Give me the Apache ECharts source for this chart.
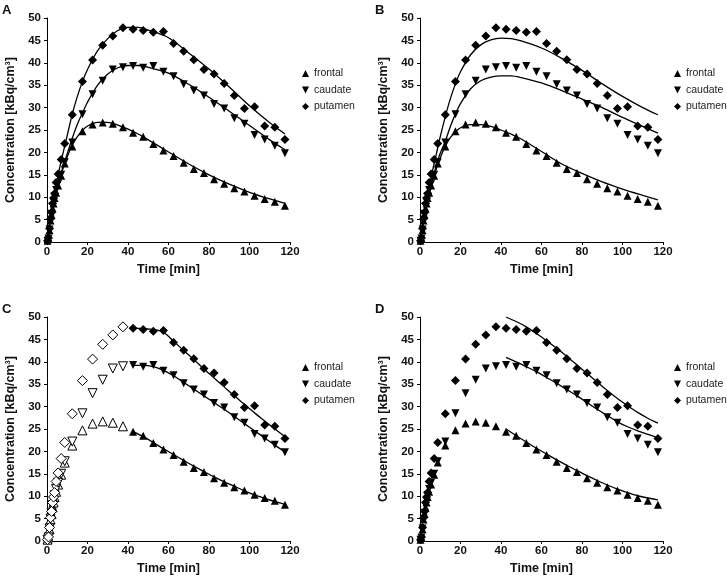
<!DOCTYPE html>
<html><head><meta charset="utf-8">
<script src="https://cdn.jsdelivr.net/npm/echarts@6/dist/echarts.min.js"></script>
<style>html,body{margin:0;padding:0;background:#fff}#c{width:727px;height:580px}</style>
</head><body><div id="c"></div>
<script>
// measured time-activity data (shared by all panels)
const times = [0.25,0.75,1.25,1.75,2.25,2.75,3.25,3.75,4.5,5.5,7,8.75,12.5,17.5,22.5,27.5,32.5,37.5,42.5,47.5,52.5,57.5,62.5,67.5,72.5,77.5,82.5,87.5,92.5,97.5,102.5,107.5,112.5,117.5];
const frontal = [0.3,0.8,2.6,4.8,6.0,7.5,8.6,9.8,11.0,12.6,14.8,17.5,21.3,24.7,26.2,26.7,26.4,25.6,24.4,23.5,21.9,20.4,19.2,17.7,16.3,15.4,14.0,13.0,12.0,11.3,10.3,9.6,9.0,8.1];
const caudate = [0.3,0.8,2.8,5.0,6.3,8.0,9.0,10.2,11.6,13.0,15.0,17.8,22.2,28.5,33.0,36.0,38.5,39.0,39.3,38.9,39.3,38.0,37.0,35.2,33.8,32.7,30.8,29.8,27.6,26.4,23.9,22.9,21.5,19.8];
const putamen = [0.3,0.9,3.0,5.2,6.6,8.6,9.8,10.8,13.3,15.2,18.4,22.0,28.4,35.8,40.6,43.9,46.0,47.8,47.5,47.2,46.8,47.0,44.3,42.6,40.7,38.5,37.5,35.4,32.7,29.8,30.2,25.9,25.6,22.9];

// full-range model fits (panels A and B)
const fitTimes = [0,2,4,6,8,10,12.5,15,17.5,20,25,30,35,40,45,50,60,70,80,90,100,110,117.5];
const fitA_frontal = [0,5.5,10,13.5,16.5,19,21.7,23.5,24.9,25.9,26.7,26.7,26.1,25.2,24.1,22.8,20.1,17.4,15.0,12.9,11.1,9.6,8.6];
const fitA_caudate = [0,5.8,10.5,14,17,19.7,23.2,26.3,28.8,31.2,35,37.5,38.9,39.4,39.4,39,37.7,35.2,32.3,29.2,26.0,22.8,20.6];
const fitA_putamen = [0,6.5,11.5,16,20,23.8,28.6,32.5,35.8,38.5,42.7,45.4,47.2,47.9,47.9,47.3,45.6,42.2,38.6,34.6,30.4,26.6,24.1];
const fitB_frontal = [0,5.3,9.8,13.3,16.3,18.8,21.4,23.3,24.6,25.5,26.2,26.2,25.8,25.0,24.1,23.0,20.2,17.4,15.3,13.4,11.8,10.4,9.4];
const fitB_caudate = [0,5.5,10,13.8,17,19.8,22.5,25.8,28.6,30.9,34.2,36.0,36.8,37.1,37.1,36.7,35.5,33.8,31.9,30.0,27.8,25.8,24.3];
const fitB_putamen = [0,6,11,15.5,19.5,23.5,28,32,35.3,38,41.8,44,45.1,45.5,45.4,44.9,43.3,41,38.3,35.3,32.5,30.0,28.4];

// late-range fits (panels C and D)
const lateTimes = [42.5,47.5,52.5,57.5,62.5,67.5,72.5,77.5,82.5,87.5,92.5,97.5,102.5,107.5,112.5,117.5];
const fitC_frontal = [24.4,23.3,22.0,20.6,19.3,18.0,16.7,15.5,14.3,13.2,12.2,11.2,10.3,9.5,8.8,8.2];
const fitC_caudate = [39.2,39.2,38.9,38.1,36.9,35.4,33.9,32.4,30.9,29.4,27.8,26.2,24.6,23.0,21.4,19.9];
const fitC_putamen = [47.5,47.4,47.2,46.6,44.6,42.5,40.5,38.4,36.4,34.4,32.4,30.5,28.6,26.8,25.0,23.3];
const fitD_frontal = [25.0,23.5,22.1,20.7,19.4,18.1,16.9,15.7,14.6,13.5,12.5,11.6,10.8,10.1,9.6,9.2];
const fitD_caudate = [41.0,40.0,38.9,37.8,36.5,35.2,33.8,32.4,30.9,29.4,28.0,26.6,25.5,24.6,23.8,23.1];
const fitD_putamen = [50.0,49.0,47.8,46.3,44.7,43.0,41.2,39.3,37.4,35.5,33.6,31.8,30.2,28.7,27.4,26.3];

const panelLetters = ['A','B','C','D'];
const regionNames = ['frontal','caudate','putamen'];
const xTicks = {min:0, max:120, interval:20};
const yTicks = {min:0, max:50, interval:5};
const xTitle = 'Time [min]';
const yTitle = 'Concentration [kBq/cm³]';
const openCutoff = 40; // panel C: frames before this time drawn hollow

const pair = (t, v) => t.map((x, i) => [x, v[i]]);

const FONT = '"Liberation Sans", Arial, sans-serif';
const grids = [
  {left: 47, top: 18, width: 243, height: 224},
  {left: 420, top: 18, width: 243, height: 224},
  {left: 47, top: 317, width: 243, height: 224},
  {left: 420, top: 317, width: 243, height: 224}
];
const legendPos = [
  {left: 297, top: 63}, {left: 669, top: 63},
  {left: 297, top: 357}, {left: 669, top: 357}
];
const symbols = {
  frontal: {symbol: 'triangle', rotate: 0, size: 8, icon: 'triangle'},
  caudate: {symbol: 'triangle', rotate: 180, size: 8, icon: 'path://M0,0L10,0L5,10Z'},
  putamen: {symbol: 'diamond', rotate: 0, size: 9, icon: 'diamond'}
};
const dataByName = {frontal, caudate, putamen};
const fits = [
  {t: fitTimes, frontal: fitA_frontal, caudate: fitA_caudate, putamen: fitA_putamen},
  {t: fitTimes, frontal: fitB_frontal, caudate: fitB_caudate, putamen: fitB_putamen},
  {t: lateTimes, frontal: fitC_frontal, caudate: fitC_caudate, putamen: fitC_putamen},
  {t: lateTimes, frontal: fitD_frontal, caudate: fitD_caudate, putamen: fitD_putamen}
];

const xAxis = [], yAxis = [], series = [], legend = [], graphic = [];
grids.forEach((g, p) => {
  xAxis.push({
    gridIndex: p, type: 'value', min: xTicks.min, max: xTicks.max, interval: xTicks.interval,
    name: xTitle, nameLocation: 'middle', nameGap: 21,
    nameTextStyle: {fontFamily: FONT, fontWeight: 'bold', fontSize: 12.5, color: '#111'},
    axisLine: {show: true, onZero: false, lineStyle: {color: '#000', width: 1}},
    axisTick: {show: true, inside: false, length: 3, lineStyle: {color: '#000'}},
    axisLabel: {margin: 4, fontFamily: FONT, fontWeight: 'bold', fontSize: 11.5, color: '#111'},
    splitLine: {show: false}
  });
  yAxis.push({
    gridIndex: p, type: 'value', min: yTicks.min, max: yTicks.max, interval: yTicks.interval,
    name: yTitle, nameLocation: 'middle', nameGap: 30, nameRotate: 90,
    nameTextStyle: {fontFamily: FONT, fontWeight: 'bold', fontSize: 12.5, color: '#111'},
    axisLine: {show: true, onZero: false, lineStyle: {color: '#000', width: 1}},
    axisTick: {show: true, inside: false, length: 3, lineStyle: {color: '#000'}},
    axisLabel: {margin: 6, fontFamily: FONT, fontWeight: 'bold', fontSize: 11.5, color: '#111'},
    splitLine: {show: false}
  });
  const f = fits[p];
  regionNames.forEach(name => {
    series.push({
      type: 'line', name: 'fit-' + name, xAxisIndex: p, yAxisIndex: p,
      data: pair(f.t, f[name]), smooth: 0.3, showSymbol: false, symbol: 'none',
      lineStyle: {color: '#000', width: 1.3}, silent: true, z: 2
    });
  });
  regionNames.forEach(name => {
    const s = symbols[name];
    const all = pair(times, dataByName[name]);
    const filled = p === 2 ? all.filter(d => d[0] > openCutoff) : all;
    series.push({
      type: 'scatter', name: name, xAxisIndex: p, yAxisIndex: p,
      data: filled, symbol: s.symbol, symbolRotate: s.rotate, symbolSize: s.size,
      itemStyle: {color: '#000', opacity: 1}, z: 3
    });
    if (p === 2) {
      series.push({
        type: 'scatter', name: name + '-open', xAxisIndex: p, yAxisIndex: p,
        data: all.filter(d => d[0] <= openCutoff), symbol: s.symbol, symbolRotate: s.rotate,
        symbolSize: s.size + 1,
        itemStyle: {color: '#fff', borderColor: '#000', borderWidth: 1, opacity: 1}, z: 3
      });
    }
  });
  legend.push({
    orient: 'vertical', left: legendPos[p].left, top: legendPos[p].top,
    itemWidth: 7, itemHeight: 7, itemGap: 5.5, selectedMode: false,
    textStyle: {fontFamily: FONT, fontSize: 10.5, color: '#222'},
    data: regionNames.map(n => ({name: n, icon: symbols[n].icon, itemStyle: {color: '#000'}}))
  });
  graphic.push({
    type: 'text', left: g.left - 45, top: g.top - 14,
    style: {text: panelLetters[p], font: 'bold 13px ' + FONT, fill: '#111'}
  });
});

const chart = echarts.init(document.getElementById('c'), null, {renderer: 'canvas'});
chart.setOption({
  animation: false, backgroundColor: '#fff',
  grid: grids, xAxis, yAxis, series, legend, graphic
});
</script></body></html>
